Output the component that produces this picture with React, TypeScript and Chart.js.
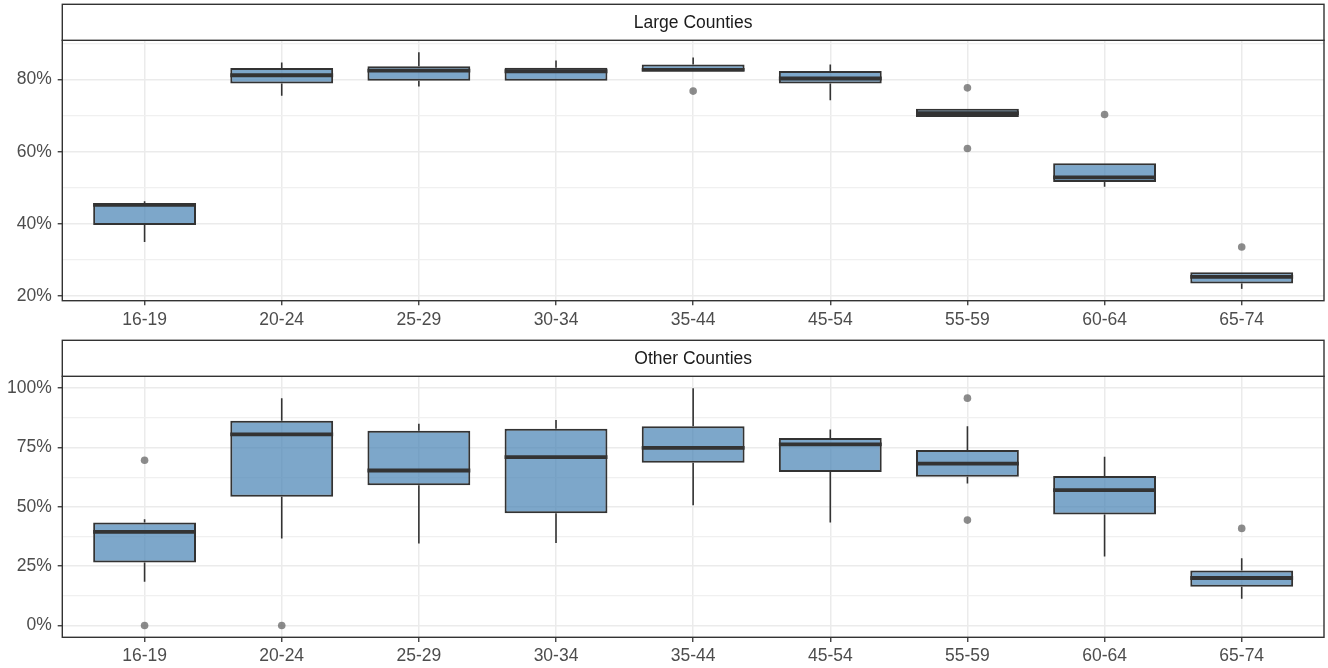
import React, { useEffect, useRef } from 'react';
import { Chart, registerables } from 'chart.js';

Chart.register(...registerables);

const FONT = '"Liberation Sans", Arial, Helvetica, sans-serif';

// Age groups on the x axis
const ageGroups = ['16-19', '20-24', '25-29', '30-34', '35-44', '45-54', '55-59', '60-64', '65-74'];

// Large counties: five-number summaries (percent) and outliers
const largeLow = [35.0, 75.5, 78.1, 79.7, 82.4, 74.3, 69.6, 50.3, 22.0];
const largeQ1 = [39.7, 78.9, 79.7, 79.7, 82.4, 78.9, 69.6, 51.6, 23.5];
const largeMedian = [45.3, 81.2, 82.5, 82.3, 82.7, 80.3, 70.7, 52.9, 25.3];
const largeQ3 = [45.8, 83.2, 83.7, 83.3, 84.2, 82.4, 71.9, 56.8, 26.6];
const largeHigh = [46.3, 84.7, 87.6, 85.3, 86.1, 84.2, 71.9, 56.8, 26.6];
const largeOutliers = [[], [], [], [], [76.8], [], [77.7, 60.9], [70.3], [33.6]];

// Other counties: five-number summaries (percent) and outliers
const otherLow = [18.4, 36.6, 34.5, 34.7, 50.7, 43.4, 59.8, 29.1, 11.2];
const otherQ1 = [26.5, 54.2, 59.1, 47.3, 68.6, 64.7, 62.7, 46.8, 16.3];
const otherMedian = [39.4, 80.5, 65.3, 70.9, 74.8, 76.3, 68.2, 57.0, 20.0];
const otherQ3 = [43.4, 86.3, 82.1, 82.9, 83.9, 79.0, 73.9, 63.0, 23.2];
const otherHigh = [44.8, 95.7, 85.0, 86.6, 100.0, 82.6, 83.9, 71.1, 28.3];
const otherOutliers = [[69.6, 0], [0], [], [], [], [], [95.8, 44.4], [], [40.9]];

// y-axis breaks
const largeMajorTicks = [20, 40, 60, 80];
const largeMinorTicks = [30, 50, 70, 90];
const otherMajorTicks = [0, 25, 50, 75, 100];
const otherMinorTicks = [12.5, 37.5, 62.5, 87.5];

const WIDTH = 1328;
const STRIP_H = 36;

const boxPartsPlugin = {
  id: 'boxParts',
  afterDatasetsDraw(chart: any, _args: any, opts: any) {
    const { ctx } = chart;
    const y = chart.scales.y;
    const meta = chart.getDatasetMeta(0);
    ctx.save();
    ctx.strokeStyle = '#333333';
    ctx.lineCap = 'butt';
    meta.data.forEach((bar: any, i: number) => {
      const { x, width } = bar.getProps(['x', 'width'], true);
      const yLow = y.getPixelForValue(opts.low[i]);
      const yQ1 = y.getPixelForValue(opts.q1[i]);
      const yQ3 = y.getPixelForValue(opts.q3[i]);
      const yHigh = y.getPixelForValue(opts.high[i]);
      const yMed = y.getPixelForValue(opts.median[i]);
      ctx.lineWidth = 1.6;
      ctx.beginPath();
      if (yHigh < yQ3 - 0.5) {
        ctx.moveTo(x, yQ3);
        ctx.lineTo(x, yHigh);
      }
      if (yLow > yQ1 + 0.5) {
        ctx.moveTo(x, yQ1);
        ctx.lineTo(x, yLow);
      }
      ctx.stroke();
      ctx.lineWidth = 3.8;
      ctx.beginPath();
      ctx.moveTo(x - width / 2, yMed);
      ctx.lineTo(x + width / 2, yMed);
      ctx.stroke();
    });
    ctx.restore();
  },
};

const facetPlugin = {
  id: 'facetStrip',
  beforeDraw(chart: any) {
    const { ctx } = chart;
    ctx.save();
    ctx.fillStyle = '#ffffff';
    ctx.fillRect(0, 0, chart.width, chart.height);
    ctx.restore();
  },
  afterDraw(chart: any, _args: any, opts: any) {
    const { ctx, chartArea } = chart;
    const { left, right, top, bottom } = chartArea;
    ctx.save();
    ctx.lineWidth = 1.4;
    ctx.strokeStyle = '#333333';
    ctx.strokeRect(left, top, right - left, bottom - top);
    ctx.fillStyle = '#ffffff';
    ctx.fillRect(left, top - STRIP_H, right - left, STRIP_H);
    ctx.strokeRect(left, top - STRIP_H, right - left, STRIP_H);
    ctx.fillStyle = '#1A1A1A';
    ctx.font = `17.5px ${FONT}`;
    ctx.textAlign = 'center';
    ctx.textBaseline = 'middle';
    ctx.fillText(opts.title, (left + right) / 2, top - STRIP_H / 2 + 1);
    ctx.restore();
  },
};

function buildConfig(p: any) {
  const allVals = [...p.low, ...p.high, ...p.outliers.flat()];
  const dMin = Math.min(...allVals);
  const dMax = Math.max(...allVals);
  const pad = (dMax - dMin) * 0.05;
  const yTicks = [...p.major, ...p.minor].sort((a, b) => a - b);
  const isMajor = (v: number) => p.major.includes(v);

  return {
    type: 'bar',
    data: {
      datasets: [
        {
          type: 'bar',
          data: ageGroups.map((_, i) => ({ x: i, y: [p.q1[i], p.q3[i]] })),
          backgroundColor: 'rgba(70,130,180,0.7)',
          borderColor: '#333333',
          borderWidth: 2,
          borderSkipped: false,
          barPercentage: 0.75,
          categoryPercentage: 1,
        },
        {
          type: 'scatter',
          data: p.outliers.flatMap((vals: number[], i: number) => vals.map((v) => ({ x: i, y: v }))),
          pointRadius: 3.8,
          pointBorderWidth: 0,
          pointBackgroundColor: 'rgba(95,95,95,0.72)',
          showLine: false,
        },
      ],
    },
    options: {
      responsive: false,
      animation: false,
      events: [],
      layout: { padding: { top: p.padTop, right: 1, left: 0, bottom: 0 } },
      plugins: {
        legend: { display: false },
        tooltip: { enabled: false },
        title: { display: false },
        facetStrip: { title: p.title },
        boxParts: { low: p.low, q1: p.q1, median: p.median, q3: p.q3, high: p.high },
      },
      scales: {
        x: {
          type: 'linear',
          min: -0.6,
          max: ageGroups.length - 1 + 0.6,
          offset: false,
          afterBuildTicks: (scale: any) => {
            scale.ticks = ageGroups.map((_, i) => ({ value: i }));
          },
          afterFit: (scale: any) => {
            scale.height = p.xAxisHeight;
          },
          border: { display: false },
          grid: {
            offset: false,
            color: '#EBEBEB',
            lineWidth: 1.5,
            drawTicks: true,
            tickLength: 4.6,
            tickColor: '#333333',
            tickWidth: 1.3,
          },
          ticks: {
            autoSkip: false,
            maxRotation: 0,
            padding: 4,
            color: '#4D4D4D',
            font: { family: FONT, size: 17.5 },
            callback: (v: number) => ageGroups[v] ?? '',
          },
        },
        y: {
          type: 'linear',
          min: dMin - pad,
          max: dMax + pad,
          afterBuildTicks: (scale: any) => {
            scale.ticks = yTicks.map((v) => ({ value: v }));
          },
          afterFit: (scale: any) => {
            scale.width = 62.3;
          },
          border: { display: false },
          grid: {
            color: (ctx: any) => (isMajor(ctx.tick?.value) ? '#EBEBEB' : '#F0F0F0'),
            lineWidth: (ctx: any) => (isMajor(ctx.tick?.value) ? 1.5 : 1.2),
            drawTicks: true,
            tickLength: 4.6,
            tickColor: (ctx: any) => (isMajor(ctx.tick?.value) ? '#333333' : 'rgba(0,0,0,0)'),
            tickWidth: 1.3,
          },
          ticks: {
            autoSkip: false,
            padding: 6,
            color: '#4D4D4D',
            font: { family: FONT, size: 17.5 },
            callback: (v: number) => (isMajor(v) ? `${v}%` : ''),
          },
        },
      },
    },
    plugins: [facetPlugin, boxPartsPlugin],
  };
}

function Panel({ cfg, height }: { cfg: any; height: number }) {
  const ref = useRef<HTMLCanvasElement>(null);
  useEffect(() => {
    const chart = new Chart(ref.current as HTMLCanvasElement, buildConfig(cfg) as any);
    return () => chart.destroy();
  }, [cfg]);
  return <canvas ref={ref} width={WIDTH} height={height} style={{ display: 'block' }} />;
}

const largePanel = {
  title: 'Large Counties',
  low: largeLow,
  q1: largeQ1,
  median: largeMedian,
  q3: largeQ3,
  high: largeHigh,
  outliers: largeOutliers,
  major: largeMajorTicks,
  minor: largeMinorTicks,
  padTop: 40.3,
  xAxisHeight: 33.3,
};

const otherPanel = {
  title: 'Other Counties',
  low: otherLow,
  q1: otherQ1,
  median: otherMedian,
  q3: otherQ3,
  high: otherHigh,
  outliers: otherOutliers,
  major: otherMajorTicks,
  minor: otherMinorTicks,
  padTop: 42.3,
  xAxisHeight: 30.7,
};

export default function App() {
  return (
    <div style={{ position: 'absolute', left: 0, top: 0, width: WIDTH, height: 668, background: '#ffffff' }}>
      <Panel cfg={largePanel} height={334} />
      <Panel cfg={otherPanel} height={334} />
    </div>
  );
}
